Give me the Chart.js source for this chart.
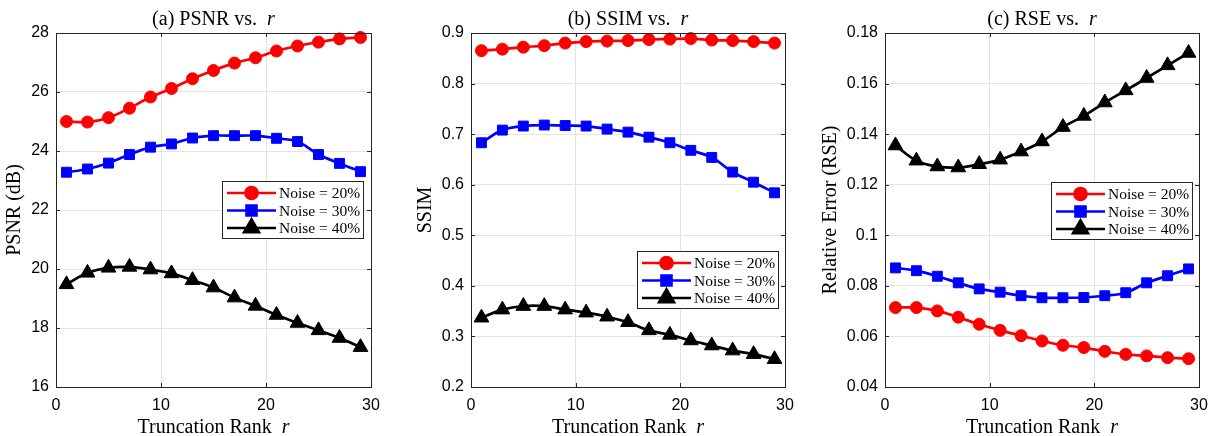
<!DOCTYPE html>
<html>
<head>
<meta charset="utf-8">
<title>Truncation rank study</title>
<script src="https://cdn.jsdelivr.net/npm/chart.js@4.4.1/dist/chart.umd.min.js"></script>
<style>
    html, body { margin: 0; padding: 0; background: #fff; }
    #wrap { position: relative; width: 1210px; height: 436px; overflow: hidden; }
    canvas { position: absolute; top: 0; }
</style>
</head>
<body>
<div id="wrap">
    <canvas id="chartA" width="400" height="436" style="left:0"></canvas>
    <canvas id="chartB" width="410" height="436" style="left:400px"></canvas>
    <canvas id="chartC" width="400" height="436" style="left:810px"></canvas>
</div>
<script>
// ---- data ----
const ranks = [1, 3, 5, 7, 9, 11, 13, 15, 17, 19, 21, 23, 25, 27, 29];
const seriesLabels = ["Noise = 20%", "Noise = 30%", "Noise = 40%"];
const xTicks = [0, 10, 20, 30];

const psnr20 = [25.0, 24.98, 25.13, 25.45, 25.83, 26.12, 26.45, 26.73, 26.98, 27.16, 27.39, 27.56, 27.69, 27.80, 27.85];
const psnr30 = [23.28, 23.39, 23.59, 23.88, 24.13, 24.24, 24.44, 24.52, 24.52, 24.52, 24.43, 24.32, 23.88, 23.58, 23.30];
const psnr40 = [19.48, 19.87, 20.04, 20.07, 19.98, 19.85, 19.62, 19.37, 19.03, 18.75, 18.44, 18.17, 17.92, 17.66, 17.35];
const psnrTicks = [16, 18, 20, 22, 24, 26, 28];

const ssim20 = [0.865, 0.868, 0.872, 0.875, 0.880, 0.883, 0.884, 0.885, 0.887, 0.888, 0.889, 0.886, 0.885, 0.883, 0.880];
const ssim30 = [0.683, 0.708, 0.716, 0.718, 0.717, 0.716, 0.710, 0.704, 0.694, 0.683, 0.668, 0.654, 0.625, 0.605, 0.584];
const ssim40 = [0.337, 0.353, 0.360, 0.360, 0.353, 0.347, 0.339, 0.328, 0.312, 0.303, 0.292, 0.282, 0.272, 0.265, 0.255];
const ssimTicks = [0.2, 0.3, 0.4, 0.5, 0.6, 0.7, 0.8, 0.9];

const rse20 = [0.0714, 0.0714, 0.0701, 0.0676, 0.0648, 0.0624, 0.0603, 0.0582, 0.0565, 0.0556, 0.0541, 0.0529, 0.0523, 0.0516, 0.0512];
const rse30 = [0.0871, 0.0860, 0.0838, 0.0812, 0.0788, 0.0775, 0.0761, 0.0753, 0.0753, 0.0754, 0.0761, 0.0773, 0.0812, 0.0840, 0.0867];
const rse40 = [0.1355, 0.1295, 0.1272, 0.1268, 0.1281, 0.1299, 0.1331, 0.1371, 0.1428, 0.1472, 0.1525, 0.1573, 0.1622, 0.1672, 0.1721];
const rseTicks = [0.04, 0.06, 0.08, 0.1, 0.12, 0.14, 0.16, 0.18];

// ---- styling ----
const SERIF = "'Liberation Serif', 'Times New Roman', serif";
const SANS = "'Liberation Sans', Arial, sans-serif";
const FRAME = "#262626";
const seriesStyle = [
    { color: "#ff0000", point: "circle", radius: 6 },
    { color: "#0000ff", point: "rect", radius: 7 },
    { color: "#000000", point: "triangle", radius: 8.5 }
];

// frame around the plot area plus MATLAB-style inner tick marks
const framePlugin = {
    id: "frame",
    afterDatasetsDraw(chart) {
        const { ctx, chartArea: a, scales } = chart;
        ctx.save();
        ctx.strokeStyle = FRAME;
        ctx.lineWidth = 1;
        ctx.strokeRect(Math.round(a.left) + 0.5, Math.round(a.top) + 0.5,
            Math.round(a.right - a.left), Math.round(a.bottom - a.top));
        ctx.beginPath();
        scales.x.ticks.forEach(t => {
            const px = Math.round(scales.x.getPixelForValue(t.value)) + 0.5;
            ctx.moveTo(px, a.bottom); ctx.lineTo(px, a.bottom - 4);
            ctx.moveTo(px, a.top); ctx.lineTo(px, a.top + 4);
        });
        scales.y.ticks.forEach(t => {
            const py = Math.round(scales.y.getPixelForValue(t.value)) + 0.5;
            ctx.moveTo(a.left, py); ctx.lineTo(a.left + 4, py);
            ctx.moveTo(a.right, py); ctx.lineTo(a.right - 4, py);
        });
        ctx.stroke();
        ctx.restore();
    }
};

// title and x label with an italic "r"
function drawRich(ctx, parts, cx, cy, size) {
    const fonts = parts.map(p => (p.italic ? "italic " : "") + size + "px " + SERIF);
    let total = 0;
    parts.forEach((p, i) => { ctx.font = fonts[i]; total += ctx.measureText(p.text).width; });
    let x = cx - total / 2;
    ctx.textBaseline = "middle";
    ctx.textAlign = "left";
    parts.forEach((p, i) => {
        ctx.font = fonts[i];
        ctx.fillText(p.text, x, cy);
        x += ctx.measureText(p.text).width;
    });
}

const labelPlugin = {
    id: "richLabels",
    afterDraw(chart, args, opts) {
        const { ctx, chartArea: a } = chart;
        const cx = (a.left + a.right) / 2;
        ctx.save();
        ctx.fillStyle = "#000";
        drawRich(ctx, opts.title, cx, 20, 20);
        drawRich(ctx, [{ text: "Truncation Rank  " }, { text: "r", italic: true }], cx, 428, 20);
        ctx.restore();
    }
};

// boxed legend inside the axes
const boxLegendPlugin = {
    id: "boxLegend",
    afterDatasetsDraw(chart, args, opts) {
        const { ctx } = chart;
        const w = 141, h = 57, rowGap = 17.5;
        ctx.save();
        ctx.fillStyle = "#fff";
        ctx.fillRect(opts.x, opts.y, w, h);
        ctx.strokeStyle = FRAME;
        ctx.lineWidth = 1;
        ctx.strokeRect(opts.x + 0.5, opts.y + 0.5, w, h);
        chart.data.datasets.forEach((ds, i) => {
            const cy = opts.y + 12 + i * rowGap;
            ctx.strokeStyle = ds.borderColor;
            ctx.fillStyle = ds.backgroundColor;
            ctx.lineWidth = ds.borderWidth;
            ctx.beginPath();
            ctx.moveTo(opts.x + 5, cy);
            ctx.lineTo(opts.x + 54, cy);
            ctx.stroke();
            Chart.helpers.drawPoint(ctx, {
                pointStyle: ds.pointStyle, radius: ds.pointRadius, rotation: 0, borderWidth: 1
            }, opts.x + 29.5, cy);
            ctx.fillStyle = "#000";
            ctx.font = "15.5px " + SERIF;
            ctx.textAlign = "left";
            ctx.textBaseline = "middle";
            ctx.fillText(ds.label, opts.x + 57, cy + 1);
        });
        ctx.restore();
    }
};

function fmt(v) {
    return String(+Number(v).toFixed(4));
}

function makePanel(id, cfg) {
    const canvas = document.getElementById(id);
    const datasets = cfg.series.map((vals, i) => ({
        label: seriesLabels[i],
        data: ranks.map((r, j) => ({ x: r, y: vals[j] })),
        borderColor: seriesStyle[i].color,
        backgroundColor: seriesStyle[i].color,
        borderWidth: 2.7,
        pointStyle: seriesStyle[i].point,
        pointRadius: seriesStyle[i].radius,
        pointBorderWidth: 1,
        tension: 0.35,
        clip: false
    }));

    return new Chart(canvas, {
        type: "line",
        data: { datasets },
        options: {
            responsive: false,
            animation: false,
            devicePixelRatio: 1,
            layout: { padding: { top: 33, right: canvas.width - cfg.plotRight, bottom: 0, left: 0 } },
            plugins: {
                legend: { display: false },
                tooltip: { enabled: false },
                richLabels: { title: cfg.title },
                boxLegend: cfg.legend
            },
            scales: {
                x: {
                    type: "linear",
                    min: 0, max: 30,
                    afterFit: s => { s.height = 49; s.paddingLeft = 0; s.paddingRight = 0; },
                    afterBuildTicks: s => { s.ticks = xTicks.map(v => ({ value: v })); },
                    grid: { color: "#e3e3e3", drawTicks: false },
                    border: { display: true, color: FRAME },
                    ticks: { padding: 9, color: "#000", font: { family: SANS, size: 16 }, callback: fmt, maxRotation: 0 }
                },
                y: {
                    type: "linear",
                    min: cfg.yTicks[0], max: cfg.yTicks[cfg.yTicks.length - 1],
                    afterFit: s => { s.width = cfg.plotLeft; },
                    afterBuildTicks: s => { s.ticks = cfg.yTicks.map(v => ({ value: v })); },
                    grid: { color: "#e3e3e3", drawTicks: false },
                    border: { display: true, color: FRAME },
                    ticks: { padding: 7, color: "#000", font: { family: SANS, size: 16 }, callback: fmt },
                    title: {
                        display: true, text: cfg.yTitle, color: "#000",
                        font: { family: SERIF, size: 20, lineHeight: 1.2 },
                        padding: { top: cfg.yTitleX - 12, bottom: 0 }
                    }
                }
            }
        },
        plugins: [framePlugin, boxLegendPlugin, labelPlugin]
    });
}

makePanel("chartA", {
    plotLeft: 56, plotRight: 371,
    series: [psnr20, psnr30, psnr40],
    yTicks: psnrTicks,
    yTitle: "PSNR (dB)", yTitleX: 15,
    title: [{ text: "(a) PSNR vs.  " }, { text: "r", italic: true }],
    legend: { x: 222, y: 181 }
});

makePanel("chartB", {
    plotLeft: 71, plotRight: 385,
    series: [ssim20, ssim30, ssim40],
    yTicks: ssimTicks,
    yTitle: "SSIM", yTitleX: 26,
    title: [{ text: "(b) SSIM vs.  " }, { text: "r", italic: true }],
    legend: { x: 237, y: 251 }
});

makePanel("chartC", {
    plotLeft: 75, plotRight: 389,
    series: [rse20, rse30, rse40],
    yTicks: rseTicks,
    yTitle: "Relative Error (RSE)", yTitleX: 21,
    title: [{ text: "(c) RSE vs.  " }, { text: "r", italic: true }],
    legend: { x: 241, y: 182 }
});
</script>
</body>
</html>
